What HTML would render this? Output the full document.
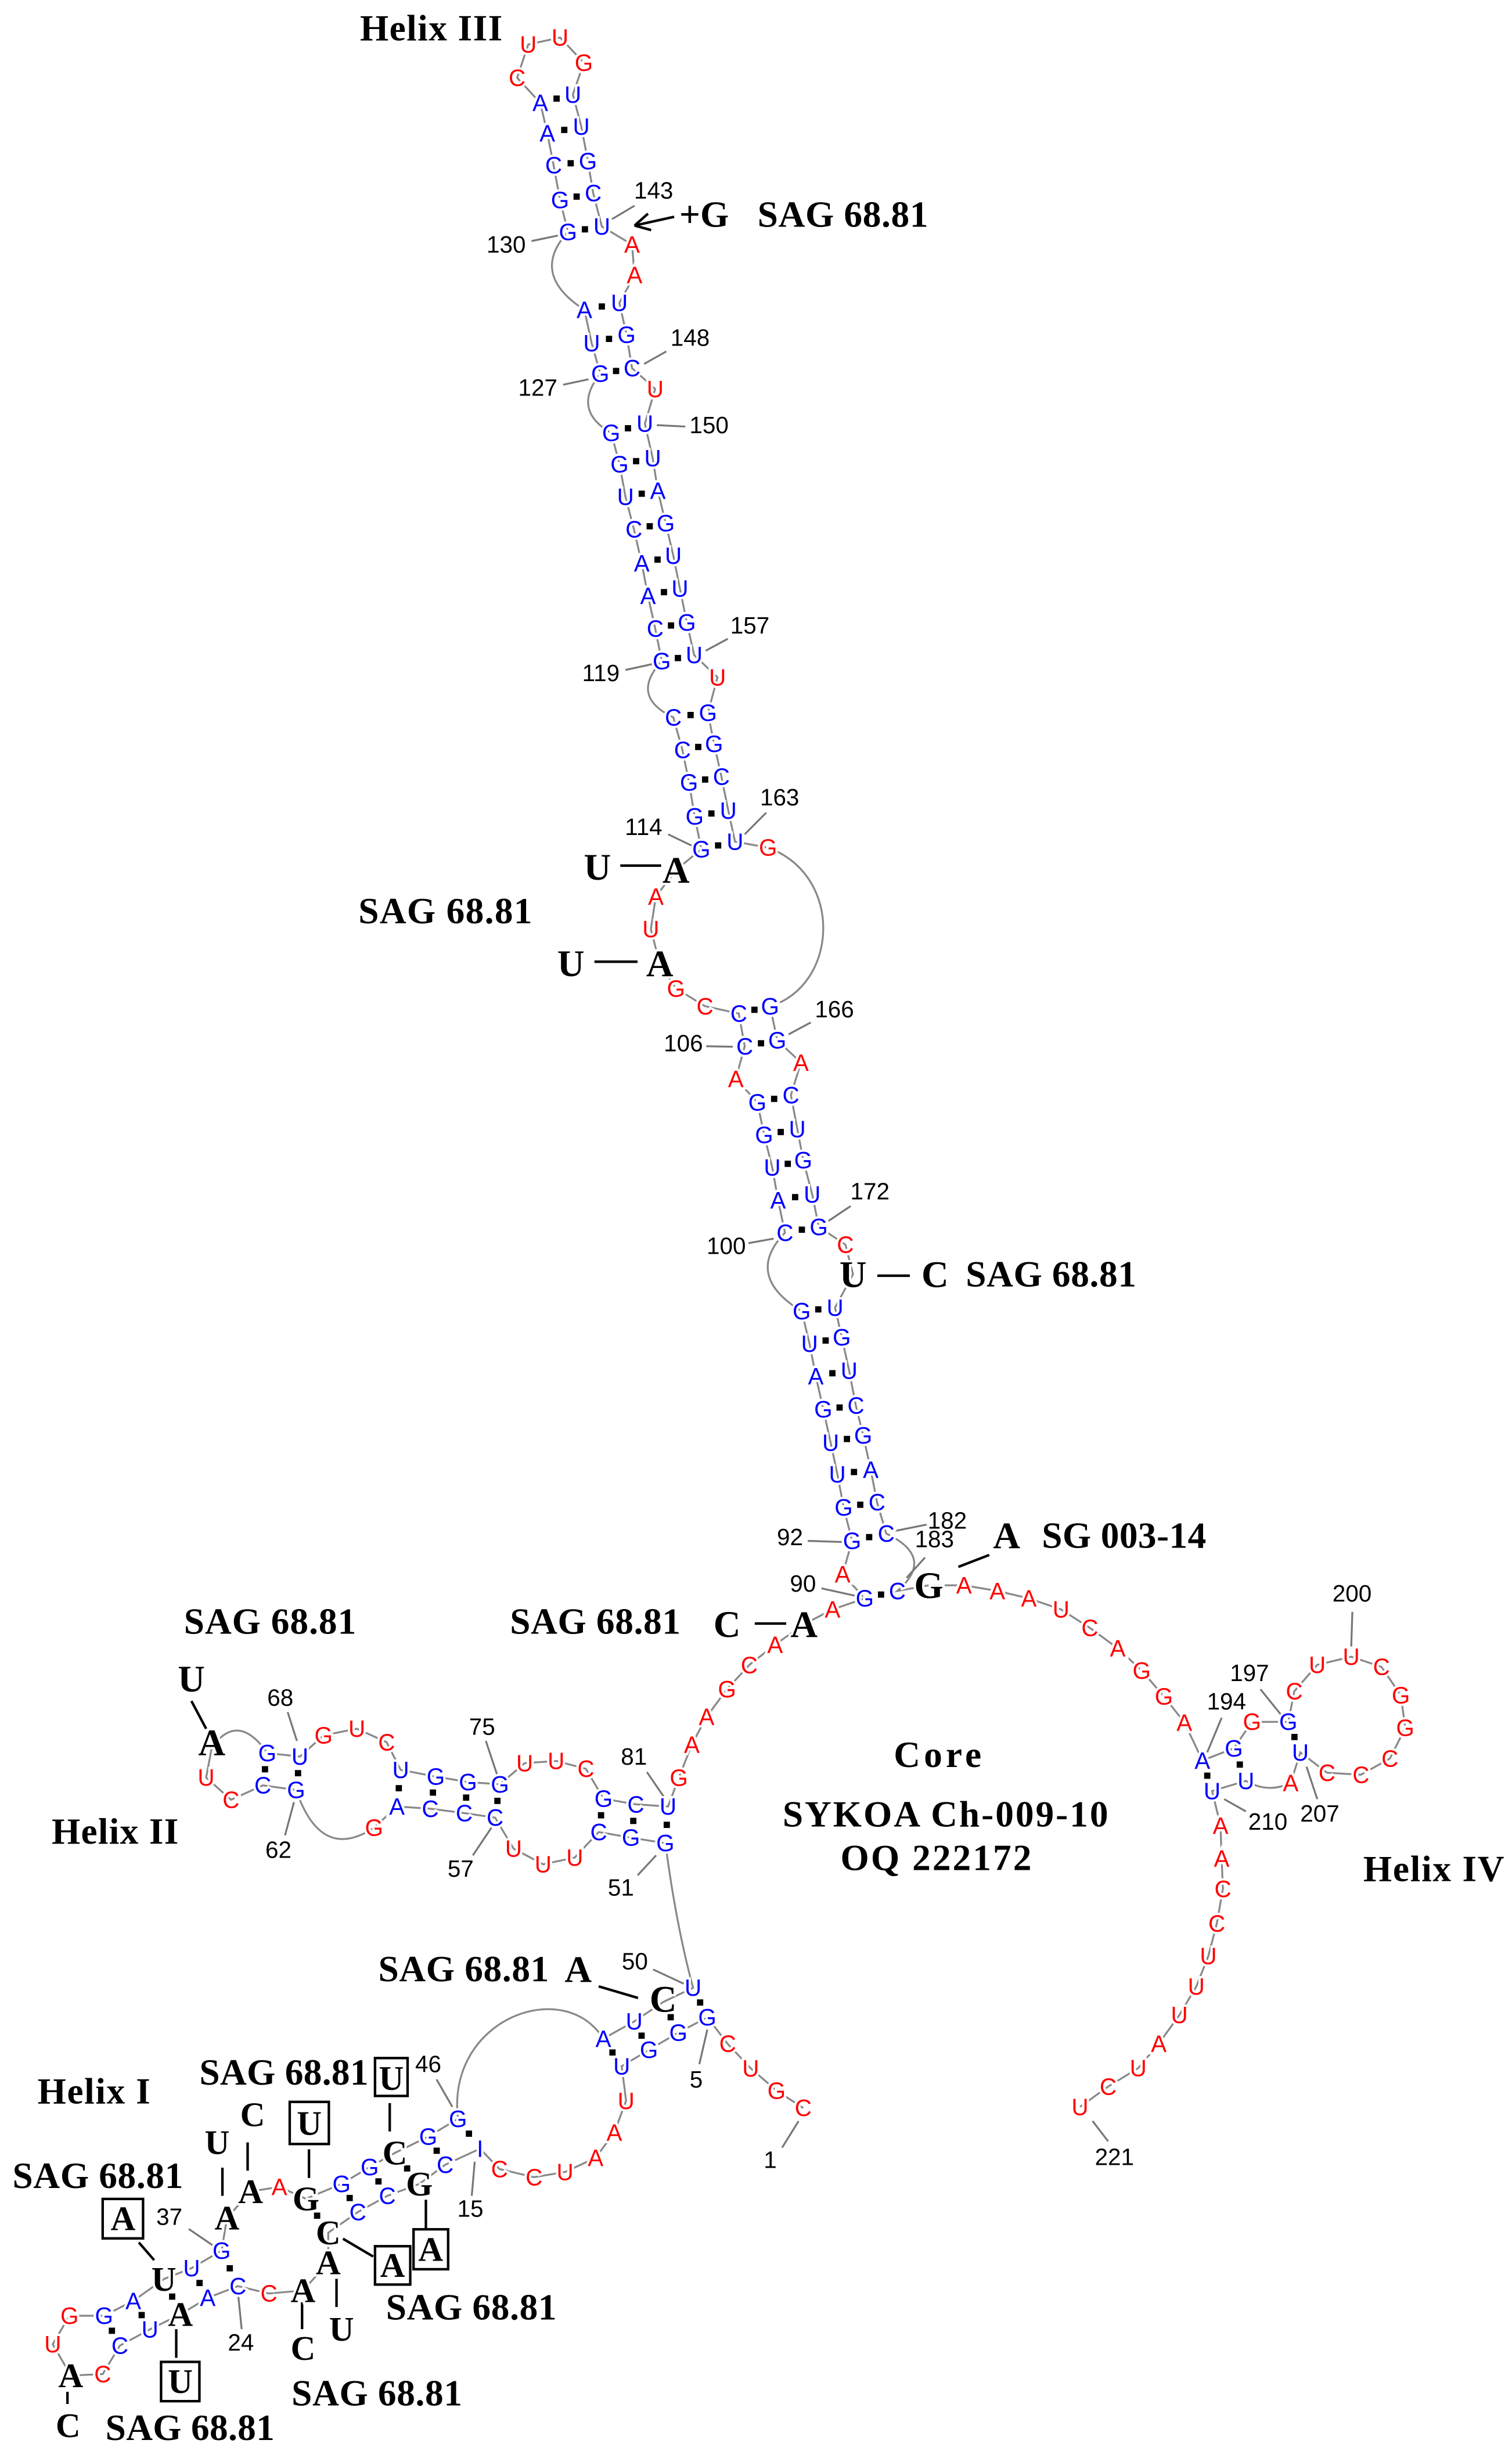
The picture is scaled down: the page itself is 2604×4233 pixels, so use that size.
<!DOCTYPE html>
<html><head><meta charset="utf-8">
<style>
html,body{margin:0;padding:0;background:#fff;}
svg{display:block;}
.b{fill:#0000ff;font-family:"Liberation Sans",sans-serif;font-size:15px;text-anchor:middle;dominant-baseline:central;stroke:#fff;stroke-width:3;paint-order:stroke;}
.r{fill:#ff0000;font-family:"Liberation Sans",sans-serif;font-size:15px;text-anchor:middle;dominant-baseline:central;stroke:#fff;stroke-width:3;paint-order:stroke;}
.n{fill:#000;font-family:"Liberation Sans",sans-serif;font-size:15px;text-anchor:middle;dominant-baseline:central;}
.k{fill:#000;font-family:"Liberation Serif",serif;font-weight:bold;font-size:24px;text-anchor:middle;dominant-baseline:central;stroke:#fff;stroke-width:3;paint-order:stroke;}
.h{fill:#000;font-family:"Liberation Serif",serif;font-weight:bold;font-size:23.5px;dominant-baseline:central;}
.gl line{stroke:#777;stroke-width:1.2;}
.bl line{stroke:#000;stroke-width:1.6;}
.bx rect{fill:none;stroke:#000;stroke-width:1.6;}
.pm rect{fill:#000;}
</style></head><body>
<svg width="2604" height="4233" viewBox="0 0 966 1570.3" preserveAspectRatio="none" xmlns="http://www.w3.org/2000/svg">
<path fill="none" stroke="#888" stroke-width="1.2" d="
M513.2,1346.7 L496.1,1335.6 L479.6,1321.3 L464.9,1305.7 L451.9,1288.8 L433.4,1298.5 L414.6,1309.6 L397.2,1320 L400,1342.1 L392.5,1362.3 L380.5,1378.5 L361,1387.6 L341.2,1390.9 L319.1,1385.7 L306.7,1372.7 L284.4,1383 L267.9,1395.2 L247.5,1402.8 L228.6,1413.2 L209.7,1426.4 L209.7,1445.4 L193.6,1463.3 L171.8,1465.2 L152,1460.5 L132.7,1468 L115.3,1478.5 L95.8,1488.1 L76.6,1498.5 L65.6,1516.7 L45.2,1517.6 L33.7,1497.6 L44.4,1479.4 L66.5,1479.4 L85.2,1469.9 L104.7,1456 L122.4,1449 L141.6,1437.8 L145,1417 L160.1,1400 L178.5,1397.1 L195.5,1404.7 L218.2,1395.2 L236.2,1384.4 L252.3,1375.4 L273.6,1365 L292.6,1353.6 C285,1290 360,1262 385.5,1302.4 L405.2,1291.4 L423.7,1279 L442.8,1269.9 Q432,1230 425.1,1177.5
M425.1,1177.5 L403.1,1174 L382.5,1170.4 L367.2,1186.7 L347,1191 L328.1,1181 L316.3,1161.2 L296.6,1158.3 L274.9,1155.5 L253.6,1154.1 L239,1167.6 Q205,1190 189.2,1143.5 L167.9,1140.6 L147.6,1149.8 L131.7,1135.6 L135.3,1116.5 Q152,1093 170.8,1120 L191.6,1122.2 L206.7,1108.7 L228,1104.4 L247,1113 L256,1130.7 L278.4,1135 L299,1138.5 L319.4,1139.9 L335.2,1126.4 L355.3,1125 L374.3,1130 L385.6,1149.1 L406.2,1152.7 L426.8,1154.1 L433.7,1135.8 L442,1114.5 L451.4,1096.8 L464.5,1079.1 L478.7,1063.7 L495.2,1050.7 L513.7,1037.6 L531.9,1028.2 L552.5,1021.1 L538.3,1005.7 L544.4,984.4 L539,963.1 L535,941.8 L530.7,921.7 L526,900.4 L521.2,879.1 L517.2,858.5 L512.2,837.7 Q475,815 501.5,787.5 L497.1,766.7 L493.4,745.9 L488.2,725.1 L483.9,704.3 L470.1,689.2 L475.8,668.4 L472,647.5 L450.4,642.8 L431.9,631.5 L421.5,615.4 L415.8,593.6 L419,572.8 L431.9,555.8 L448.1,542.5 L443.8,521.6 L440.2,499.9 L436,479.1 L430.2,458.3 Q402,445 422.8,422.3 L418.6,401.5 L414,380.7 L410,359.9 L405,338.1 L399.6,317.3 L395.8,296.5 L390.5,276.6 Q365,262 383.5,238.7 L378,219.2 L373.4,198 Q338,175 362.9,148.2 L357.8,127.8 L353.7,105.6 L349.7,85.2 L345.2,65.7 L330.4,49.7 L337.5,28.4 L357.8,24 L373,40 L366,60.4 L371.4,80.8 L375.6,103 L379,123.4 L384.5,144.7 L403.8,156.2 L405.4,175.7 L395.7,193.5 L400.3,213.9 L403.8,235.2 L418.6,248.5 L412,270.7 L417,292.7 L420.3,313.5 L425.3,334.3 L430.2,355.1 L434.4,376 L438.8,397.7 L443.5,418.5 L458.4,432.7 L452.3,455.4 L456.2,475.3 L460.9,496.1 L465.3,517.9 L469.6,537.7 L490.7,541.5 C540,560 535,630 492,642.8 L496.6,664.6 L511.7,678.8 L505.3,699.6 L509.4,721.3 L513.2,741.2 L518.9,763 L523.1,783.8 L540.1,795.1 L545,814 L533.5,835.4 L537.8,854.3 L542.5,875.6 L546.8,898 L551.5,917 L556.3,939 L560.3,959.6 L566.2,979.7 Q598,995 573.3,1016.4 L593.4,1012.8 L615.9,1012.8 L637.2,1016.4 L657.3,1021.1 L677.9,1028.2 L696.3,1040 L714.1,1053 L729.4,1067.2 L743.6,1083.8 L756.7,1100.4 L768.2,1124.7 L788.3,1116.9 L799.9,1100 L823.1,1100 L826.9,1080.5 L841.6,1063.6 L863.3,1058.4 L882.6,1064.9 L895,1083.1 L897.8,1103.9 L888,1123.4 L869.5,1133.8 L847.8,1132.5 L830.8,1119.5 L824.6,1139 Q810,1146 796,1137.7 L774.4,1144.2 L779.8,1166.3 L780.5,1187.2 L781.3,1206.7 L777.4,1228.8 L772,1249.6 L764.3,1269.1 L753.5,1287.3 L740.3,1305.6 L727.2,1321.2 L708,1333 L690,1346"/>

<g class="pm">
<rect x="353.6" y="61" width="4" height="4"/><rect x="358.5" y="81" width="4" height="4"/><rect x="362.6" y="102.3" width="4" height="4"/><rect x="366.4" y="123.6" width="4" height="4"/><rect x="371.7" y="144.5" width="4" height="4"/>
<rect x="382.5" y="193.8" width="4" height="4"/><rect x="387.1" y="214.5" width="4" height="4"/><rect x="391.6" y="235" width="4" height="4"/><rect x="399.2" y="271.6" width="4" height="4"/><rect x="404.4" y="292.6" width="4" height="4"/><rect x="408" y="313.4" width="4" height="4"/><rect x="413.1" y="334.2" width="4" height="4"/><rect x="418.1" y="355.5" width="4" height="4"/><rect x="422.2" y="376.3" width="4" height="4"/><rect x="426.7" y="397.6" width="4" height="4"/><rect x="431.1" y="418.4" width="4" height="4"/>
<rect x="439.2" y="454.8" width="4" height="4"/><rect x="444.1" y="475.2" width="4" height="4"/><rect x="448.5" y="496" width="4" height="4"/><rect x="452.5" y="517.7" width="4" height="4"/><rect x="456.8" y="538.1" width="4" height="4"/>
<rect x="480" y="643.1" width="4" height="4"/><rect x="484.2" y="664.5" width="4" height="4"/><rect x="492.6" y="700" width="4" height="4"/><rect x="496.8" y="721.2" width="4" height="4"/><rect x="501.3" y="741.5" width="4" height="4"/><rect x="506" y="762.8" width="4" height="4"/><rect x="510.3" y="783.6" width="4" height="4"/>
<rect x="520.8" y="834.5" width="4" height="4"/><rect x="525.5" y="854.4" width="4" height="4"/><rect x="529.8" y="875.3" width="4" height="4"/><rect x="534.4" y="897.2" width="4" height="4"/><rect x="539.1" y="917.3" width="4" height="4"/><rect x="543.6" y="938.4" width="4" height="4"/><rect x="547.6" y="959.3" width="4" height="4"/><rect x="553.3" y="980" width="4" height="4"/><rect x="560.9" y="1016.7" width="4" height="4"/>
<rect x="769.3" y="1132.4" width="4" height="4"/><rect x="790.1" y="1125.3" width="4" height="4"/><rect x="825" y="1107.7" width="4" height="4"/>
<rect x="167.3" y="1128.3" width="4" height="4"/><rect x="188.4" y="1130.8" width="4" height="4"/><rect x="252.8" y="1140.4" width="4" height="4"/><rect x="274.6" y="1143.2" width="4" height="4"/><rect x="295.8" y="1146.4" width="4" height="4"/><rect x="315.8" y="1148.5" width="4" height="4"/><rect x="382" y="1157.7" width="4" height="4"/><rect x="402.6" y="1161.3" width="4" height="4"/><rect x="424" y="1163.8" width="4" height="4"/>
<rect x="445.3" y="1277.3" width="4" height="4"/><rect x="426.5" y="1286.7" width="4" height="4"/><rect x="407.9" y="1298.5" width="4" height="4"/><rect x="389.3" y="1309.2" width="4" height="4"/><rect x="297.6" y="1361.1" width="4" height="4"/><rect x="277" y="1372" width="4" height="4"/><rect x="258.1" y="1383.3" width="4" height="4"/><rect x="239.8" y="1391.6" width="4" height="4"/><rect x="221.4" y="1402.2" width="4" height="4"/><rect x="200.6" y="1413.5" width="4" height="4"/><rect x="144.8" y="1447.1" width="4" height="4"/><rect x="125.5" y="1456.5" width="4" height="4"/><rect x="108" y="1465.2" width="4" height="4"/><rect x="88.5" y="1477" width="4" height="4"/><rect x="69.5" y="1487" width="4" height="4"/>
</g>

<g class="gl">
<line x1="391" y1="140" x2="405.4" y2="131.4"/><line x1="339.6" y1="154" x2="356.4" y2="150.5"/><line x1="411.5" y1="232.5" x2="425.7" y2="224.5"/><line x1="359.8" y1="245.8" x2="376" y2="242.3"/><line x1="419.6" y1="271.6" x2="437.8" y2="272.5"/>
<line x1="450.9" y1="415.7" x2="465" y2="408.1"/><line x1="399.6" y1="428" x2="417" y2="424.2"/><line x1="475.8" y1="533" x2="489.5" y2="519.2"/><line x1="426.9" y1="533" x2="442.7" y2="540.6"/>
<line x1="503.8" y1="660.8" x2="518" y2="653.2"/><line x1="451.2" y1="668.4" x2="468.2" y2="668.7"/><line x1="529.3" y1="780" x2="543.5" y2="770.5"/><line x1="478.2" y1="794.2" x2="494.3" y2="791.3"/>
<line x1="516" y1="984.4" x2="537.8" y2="985.1"/><line x1="572" y1="978" x2="592" y2="974"/><line x1="579.2" y1="1008" x2="591" y2="995"/><line x1="524.8" y1="1014.7" x2="546.1" y2="1019.4"/>
<line x1="864" y1="1029.7" x2="863.3" y2="1051.9"/><line x1="805.3" y1="1079.2" x2="820" y2="1097.4"/><line x1="780.5" y1="1097.4" x2="771.3" y2="1119.5"/><line x1="782.1" y1="1149.4" x2="796" y2="1157.2"/><line x1="834.7" y1="1128.6" x2="841.6" y2="1149.4"/><line x1="698" y1="1355" x2="708" y2="1368"/>
<line x1="183.8" y1="1093.8" x2="189.7" y2="1112.2"/><line x1="182.1" y1="1172.5" x2="187.8" y2="1151.3"/><line x1="310.4" y1="1112.2" x2="317.5" y2="1133.5"/><line x1="302.1" y1="1185.3" x2="314" y2="1167.6"/><line x1="413.3" y1="1132.1" x2="424" y2="1147.7"/><line x1="407.4" y1="1198" x2="419.2" y2="1185.3"/>
<line x1="417.3" y1="1258.2" x2="436.8" y2="1267.3"/><line x1="446.8" y1="1318.7" x2="451.9" y2="1296.6"/><line x1="499.7" y1="1372" x2="510.2" y2="1355.1"/><line x1="278.9" y1="1328.4" x2="289" y2="1346"/><line x1="303.3" y1="1381" x2="301.4" y2="1402.8"/><line x1="120.6" y1="1424" x2="135.7" y2="1434.3"/><line x1="152" y1="1464.3" x2="154.4" y2="1488"/>
</g>

<g class="bl">
<line x1="396.3" y1="553" x2="422.4" y2="553"/><line x1="379.8" y1="614.4" x2="407.3" y2="614.4"/><line x1="560.5" y1="815" x2="581.3" y2="815"/><line x1="482.2" y1="1037.2" x2="502.3" y2="1037.2"/><line x1="612.3" y1="1001" x2="632" y2="993.4"/><line x1="122.3" y1="1086.7" x2="131.7" y2="1104.4"/><line x1="382.5" y1="1269" x2="407.6" y2="1276.4"/>
<line x1="249" y1="1343.6" x2="249" y2="1361.7"/><line x1="272.1" y1="1405.3" x2="272.1" y2="1423.6"/><line x1="219.1" y1="1430.2" x2="238.4" y2="1441.6"/><line x1="197.4" y1="1373.1" x2="197.4" y2="1391.4"/><line x1="158.2" y1="1368.7" x2="158.2" y2="1386.7"/><line x1="142.1" y1="1384.8" x2="142.1" y2="1402.8"/><line x1="215" y1="1455.8" x2="215" y2="1473.8"/><line x1="193" y1="1470.9" x2="193" y2="1488"/><line x1="88.7" y1="1432.6" x2="98.5" y2="1443.9"/><line x1="43.1" y1="1528" x2="43.1" y2="1535.8"/><line x1="112.6" y1="1488" x2="112.6" y2="1506.3"/>
<line x1="430.7" y1="138.5" x2="405.4" y2="144.1"/><line x1="405.4" y1="144.1" x2="414" y2="136.5"/><line x1="405.4" y1="144.1" x2="416" y2="147"/>
</g>
<g class="bx">
<rect x="239.6" y="1314.8" width="20.8" height="24.2"/><rect x="264.2" y="1424.2" width="22.1" height="25.5"/><rect x="239.6" y="1435" width="22.5" height="24.5"/><rect x="185.1" y="1342.8" width="25" height="26.9"/><rect x="65.6" y="1404.8" width="25.8" height="25.2"/><rect x="102.9" y="1508.9" width="24.5" height="25.1"/>
</g>

<text class="r" x="330.4" y="49.7">C</text><text class="r" x="337.5" y="28.4">U</text><text class="r" x="357.8" y="24">U</text><text class="r" x="373" y="40">G</text>
<text class="b" x="345.2" y="65.7">A</text><text class="b" x="366" y="60.4">U</text>
<text class="b" x="349.7" y="85.2">A</text><text class="b" x="371.4" y="80.8">U</text>
<text class="b" x="353.7" y="105.6">C</text><text class="b" x="375.6" y="103">G</text>
<text class="b" x="357.8" y="127.8">G</text><text class="b" x="379" y="123.4">C</text>
<text class="b" x="362.9" y="148.2">G</text><text class="b" x="384.5" y="144.7">U</text>
<text class="r" x="403.8" y="156.2">A</text><text class="r" x="405.4" y="175.7">A</text>
<text class="b" x="373.4" y="198">A</text><text class="b" x="395.7" y="193.5">U</text>
<text class="b" x="378" y="219.2">U</text><text class="b" x="400.3" y="213.9">G</text>
<text class="b" x="383.5" y="238.7">G</text><text class="b" x="403.8" y="235.2">C</text>
<text class="r" x="418.6" y="248.5">U</text>
<text class="b" x="390.5" y="276.6">G</text><text class="b" x="412" y="270.7">U</text>
<text class="b" x="395.8" y="296.5">G</text><text class="b" x="417" y="292.7">U</text>
<text class="b" x="399.6" y="317.3">U</text><text class="b" x="420.3" y="313.5">A</text>
<text class="b" x="405" y="338.1">C</text><text class="b" x="425.3" y="334.3">G</text>
<text class="b" x="410" y="359.9">A</text><text class="b" x="430.2" y="355.1">U</text>
<text class="b" x="414" y="380.7">A</text><text class="b" x="434.4" y="376">U</text>
<text class="b" x="418.6" y="401.5">C</text><text class="b" x="438.8" y="397.7">G</text>
<text class="b" x="422.8" y="422.3">G</text><text class="b" x="443.5" y="418.5">U</text>
<text class="r" x="458.4" y="432.7">U</text>
<text class="b" x="430.2" y="458.3">C</text><text class="b" x="452.3" y="455.4">G</text>
<text class="b" x="436" y="479.1">C</text><text class="b" x="456.2" y="475.3">G</text>
<text class="b" x="440.2" y="499.9">G</text><text class="b" x="460.9" y="496.1">C</text>
<text class="b" x="443.8" y="521.6">G</text><text class="b" x="465.3" y="517.9">U</text>
<text class="b" x="448.1" y="542.5">G</text><text class="b" x="469.6" y="537.7">U</text>
<text class="r" x="490.7" y="541.5">G</text>
<text class="r" x="419" y="572.8">A</text><text class="r" x="415.8" y="593.6">U</text>
<text class="r" x="431.9" y="631.5">G</text><text class="r" x="450.4" y="642.8">C</text>
<text class="b" x="472" y="647.5">C</text><text class="b" x="492" y="642.8">G</text>
<text class="b" x="475.8" y="668.4">C</text><text class="b" x="496.6" y="664.6">G</text>
<text class="r" x="511.7" y="678.8">A</text><text class="r" x="470.1" y="689.2">A</text>
<text class="b" x="483.9" y="704.3">G</text><text class="b" x="505.3" y="699.6">C</text>
<text class="b" x="488.2" y="725.1">G</text><text class="b" x="509.4" y="721.3">U</text>
<text class="b" x="493.4" y="745.9">U</text><text class="b" x="513.2" y="741.2">G</text>
<text class="b" x="497.1" y="766.7">A</text><text class="b" x="518.9" y="763">U</text>
<text class="b" x="501.5" y="787.5">C</text><text class="b" x="523.1" y="783.8">G</text>
<text class="r" x="540.1" y="795.1">C</text>
<text class="b" x="512.2" y="837.7">G</text><text class="b" x="533.5" y="835.4">U</text>
<text class="b" x="517.2" y="858.5">U</text><text class="b" x="537.8" y="854.3">G</text>
<text class="b" x="521.2" y="879.1">A</text><text class="b" x="542.5" y="875.6">U</text>
<text class="b" x="526" y="900.4">G</text><text class="b" x="546.8" y="898">C</text>
<text class="b" x="530.7" y="921.7">U</text><text class="b" x="551.5" y="917">G</text>
<text class="b" x="535" y="941.8">U</text><text class="b" x="556.3" y="939">A</text>
<text class="b" x="539" y="963.1">G</text><text class="b" x="560.3" y="959.6">C</text>
<text class="b" x="544.4" y="984.4">G</text><text class="b" x="566.2" y="979.7">C</text>
<text class="r" x="538.3" y="1005.7">A</text>
<text class="b" x="552.5" y="1021.1">G</text><text class="b" x="573.3" y="1016.4">C</text>

<text class="r" x="615.9" y="1012.8">A</text><text class="r" x="637.2" y="1016.4">A</text><text class="r" x="657.3" y="1021.1">A</text><text class="r" x="677.9" y="1028.2">U</text><text class="r" x="696.3" y="1040">C</text><text class="r" x="714.1" y="1053">A</text><text class="r" x="729.4" y="1067.2">G</text><text class="r" x="743.6" y="1083.8">G</text><text class="r" x="756.7" y="1100.4">A</text>
<text class="r" x="531.9" y="1028.2">A</text><text class="r" x="495.2" y="1050.7">A</text><text class="r" x="478.7" y="1063.7">C</text><text class="r" x="464.5" y="1079.1">G</text><text class="r" x="451.4" y="1096.8">A</text><text class="r" x="442" y="1114.5">A</text><text class="r" x="433.7" y="1135.8">G</text>

<text class="b" x="768.2" y="1124.7">A</text><text class="b" x="774.4" y="1144.2">U</text>
<text class="b" x="788.3" y="1116.9">G</text><text class="b" x="796" y="1137.7">U</text>
<text class="r" x="799.9" y="1100">G</text><text class="r" x="824.6" y="1139">A</text>
<text class="b" x="823.1" y="1100">G</text><text class="b" x="830.8" y="1119.5">U</text>
<text class="r" x="826.9" y="1080.5">C</text><text class="r" x="841.6" y="1063.6">U</text><text class="r" x="863.3" y="1058.4">U</text><text class="r" x="882.6" y="1064.9">C</text><text class="r" x="895" y="1083.1">G</text><text class="r" x="897.8" y="1103.9">G</text><text class="r" x="888" y="1123.4">C</text><text class="r" x="869.5" y="1133.8">C</text><text class="r" x="847.8" y="1132.5">C</text>
<text class="r" x="779.8" y="1166.3">A</text><text class="r" x="780.5" y="1187.2">A</text><text class="r" x="781.3" y="1206.7">C</text><text class="r" x="777.4" y="1228.8">C</text><text class="r" x="772" y="1249.6">U</text><text class="r" x="764.3" y="1269.1">U</text><text class="r" x="753.5" y="1287.3">U</text><text class="r" x="740.3" y="1305.6">A</text><text class="r" x="727.2" y="1321.2">U</text><text class="r" x="708" y="1333">C</text><text class="r" x="690" y="1346">U</text>

<text class="r" x="131.7" y="1135.6">U</text><text class="r" x="147.6" y="1149.8">C</text>
<text class="b" x="170.8" y="1120">G</text><text class="b" x="167.9" y="1140.6">C</text>
<text class="b" x="191.6" y="1122.2">U</text><text class="b" x="189.2" y="1143.5">G</text>
<text class="r" x="206.7" y="1108.7">G</text><text class="r" x="228" y="1104.4">U</text><text class="r" x="247" y="1113">C</text>
<text class="b" x="256" y="1130.7">U</text><text class="b" x="253.6" y="1154.1">A</text>
<text class="b" x="278.4" y="1135">G</text><text class="b" x="274.9" y="1155.5">C</text>
<text class="b" x="299" y="1138.5">G</text><text class="b" x="296.6" y="1158.3">C</text>
<text class="b" x="319.4" y="1139.9">G</text><text class="b" x="316.3" y="1161.2">C</text>
<text class="r" x="239" y="1167.6">G</text>
<text class="r" x="335.2" y="1126.4">U</text><text class="r" x="355.3" y="1125">U</text><text class="r" x="374.3" y="1130">C</text>
<text class="r" x="328.1" y="1181">U</text><text class="r" x="347" y="1191">U</text><text class="r" x="367.2" y="1186.7">U</text>
<text class="b" x="385.6" y="1149.1">G</text><text class="b" x="382.5" y="1170.4">C</text>
<text class="b" x="406.2" y="1152.7">C</text><text class="b" x="403.1" y="1174">G</text>
<text class="b" x="426.8" y="1154.1">U</text><text class="b" x="425.1" y="1177.5">G</text>

<text class="b" x="442.8" y="1269.9">U</text><text class="b" x="451.9" y="1288.8">G</text>
<text class="b" x="405.2" y="1291.4">U</text><text class="b" x="433.4" y="1298.5">G</text>
<text class="b" x="385.5" y="1302.4">A</text><text class="b" x="414.6" y="1309.6">G</text>
<text class="b" x="397.2" y="1320">U</text>
<text class="r" x="464.9" y="1305.7">C</text><text class="r" x="479.6" y="1321.3">U</text><text class="r" x="496.1" y="1335.6">G</text><text class="r" x="513.2" y="1346.7">C</text>
<text class="r" x="400" y="1342.1">U</text><text class="r" x="392.5" y="1362.3">A</text><text class="r" x="380.5" y="1378.5">A</text><text class="r" x="361" y="1387.6">U</text><text class="r" x="341.2" y="1390.9">C</text><text class="r" x="319.1" y="1385.7">C</text>
<text class="b" x="306.7" y="1372.7">I</text><text class="b" x="292.6" y="1353.6">G</text>
<text class="b" x="273.6" y="1365">G</text><text class="b" x="284.4" y="1383">C</text>
<text class="b" x="236.2" y="1384.4">G</text><text class="b" x="247.5" y="1402.8">C</text>
<text class="b" x="218.2" y="1395.2">G</text><text class="b" x="228.6" y="1413.2">C</text>
<text class="r" x="178.5" y="1397.1">A</text>
<text class="b" x="141.6" y="1437.8">G</text><text class="b" x="152" y="1460.5">C</text>
<text class="b" x="122.4" y="1449">U</text><text class="b" x="132.7" y="1468">A</text>
<text class="r" x="171.8" y="1465.2">C</text>
<text class="b" x="85.2" y="1469.9">A</text><text class="b" x="95.8" y="1488.1">U</text>
<text class="b" x="66.5" y="1479.4">G</text><text class="b" x="76.6" y="1498.5">C</text>
<text class="r" x="44.4" y="1479.4">G</text><text class="r" x="33.7" y="1497.6">U</text><text class="r" x="65.6" y="1516.7">C</text>

<text class="k" x="381.7" y="553.9">U</text><text class="k" x="431.9" y="555.8">A</text>
<text class="k" x="364.7" y="615.4">U</text><text class="k" x="421.5" y="615.4">A</text>
<text class="k" x="545" y="814">U</text><text class="k" x="597.4" y="814">C</text>
<text class="k" x="593.4" y="1012.8">G</text><text class="k" x="643.1" y="980.9">A</text>
<text class="k" x="464.5" y="1037.6">C</text><text class="k" x="513.7" y="1037.6">A</text>
<text class="k" x="122.3" y="1072.5">U</text><text class="k" x="135.3" y="1113">A</text>
<text class="k" x="369.4" y="1258">A</text><text class="k" x="423.7" y="1277">C</text>
<text class="k" style="font-size:22px" x="250" y="1327.7">U</text><text class="k" style="font-size:22px" x="252.3" y="1375.4">C</text><text class="k" style="font-size:22px" x="267.9" y="1395.2">G</text><text class="k" style="font-size:22px" x="275.2" y="1436.9">A</text><text class="k" style="font-size:22px" x="250.8" y="1447.2">A</text><text class="k" style="font-size:22px" x="209.7" y="1426.4">C</text><text class="k" style="font-size:22px" x="195.5" y="1404.7">G</text><text class="k" style="font-size:22px" x="197.6" y="1356.4">U</text><text class="k" style="font-size:22px" x="160.1" y="1400">A</text><text class="k" style="font-size:22px" x="161.4" y="1350.8">C</text><text class="k" style="font-size:22px" x="138.7" y="1368.7">U</text><text class="k" style="font-size:22px" x="145" y="1417">A</text><text class="k" style="font-size:22px" x="209.7" y="1445.4">A</text><text class="k" style="font-size:22px" x="193.6" y="1463.3">A</text><text class="k" style="font-size:22px" x="218.2" y="1488">U</text><text class="k" style="font-size:22px" x="193.6" y="1500.2">C</text><text class="k" style="font-size:22px" x="78.6" y="1417.3">A</text><text class="k" style="font-size:22px" x="104.7" y="1456">U</text><text class="k" style="font-size:22px" x="115.3" y="1478.5">A</text><text class="k" style="font-size:22px" x="45.2" y="1517.6">A</text><text class="k" style="font-size:22px" x="43.5" y="1549.6">C</text><text class="k" style="font-size:22px" x="115.2" y="1521.4">U</text>

<text class="n" x="417.6" y="121.6">143</text><text class="n" x="323.4" y="156.2">130</text><text class="n" x="440.9" y="215.7">148</text><text class="n" x="343.6" y="247.6">127</text><text class="n" x="453" y="271.6">150</text>
<text class="n" x="479.1" y="399.6">157</text><text class="n" x="383.9" y="429.9">119</text><text class="n" x="498.1" y="509.3">163</text><text class="n" x="411.2" y="528.3">114</text>
<text class="n" x="533.1" y="644.7">166</text><text class="n" x="436.6" y="666.5">106</text><text class="n" x="555.8" y="761.1">172</text><text class="n" x="464" y="796">100</text>
<text class="n" x="504.7" y="982">92</text><text class="n" x="605.2" y="971.4">182</text><text class="n" x="597" y="983.2">183</text><text class="n" x="513" y="1011.6">90</text>
<text class="n" x="863.8" y="1018">200</text><text class="n" x="798.3" y="1068.8">197</text><text class="n" x="783.6" y="1087">194</text><text class="n" x="810" y="1163.7">210</text><text class="n" x="843.2" y="1158.5">207</text><text class="n" x="712" y="1378">221</text>
<text class="n" x="179.1" y="1084.6">68</text><text class="n" x="177.9" y="1181.8">62</text><text class="n" x="308" y="1103">75</text><text class="n" x="294.3" y="1193.8">57</text><text class="n" x="405" y="1122.2">81</text><text class="n" x="396.7" y="1205.9">51</text>
<text class="n" x="405.6" y="1253">50</text><text class="n" x="444.8" y="1328.4">5</text><text class="n" x="492.1" y="1379.8">1</text><text class="n" x="273.6" y="1318.6">46</text><text class="n" x="300.5" y="1411">15</text><text class="n" x="108.2" y="1416.1">37</text><text class="n" x="153.9" y="1496.4">24</text>

<text class="h" x="230" y="18" textLength="91">Helix III</text>
<text class="h" x="434" y="137">+G</text>
<text class="h" x="484" y="137" textLength="109">SAG 68.81</text>
<text class="h" x="229" y="582" textLength="111">SAG 68.81</text>
<text class="h" x="617" y="814" textLength="109">SAG 68.81</text>
<text class="h" x="665.6" y="981" textLength="105">SG 003-14</text>
<text class="h" x="117.5" y="1036" textLength="110">SAG 68.81</text>
<text class="h" x="325.8" y="1036" textLength="109">SAG 68.81</text>
<text class="h" x="33" y="1170" textLength="81">Helix II</text>
<text class="h" x="571" y="1121" textLength="56">Core</text>
<text class="h" x="500" y="1159" textLength="208">SYKOA Ch-009-10</text>
<text class="h" x="537" y="1187" textLength="122">OQ 222172</text>
<text class="h" x="871" y="1194" textLength="90">Helix IV</text>
<text class="h" x="241.7" y="1258" textLength="109">SAG 68.81</text>
<text class="h" x="24" y="1336" textLength="72">Helix I</text>
<text class="h" x="127.4" y="1324" textLength="108">SAG 68.81</text>
<text class="h" x="8" y="1390" textLength="109">SAG 68.81</text>
<text class="h" x="246.6" y="1474" textLength="109">SAG 68.81</text>
<text class="h" x="186.3" y="1529" textLength="109">SAG 68.81</text>
<text class="h" x="67.4" y="1551" textLength="108">SAG 68.81</text>
</svg>
</body></html>
